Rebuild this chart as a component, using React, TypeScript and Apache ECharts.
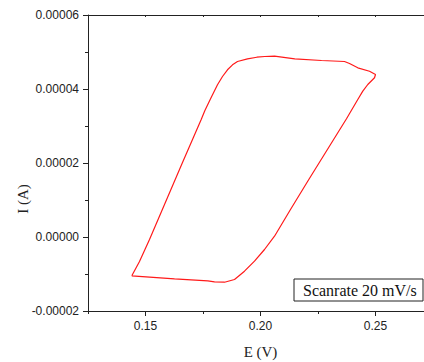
import React, { useEffect, useRef } from "react";
import * as echarts from "echarts";

// Cyclic voltammogram
const potentialV: number[] = [
  0.14404, 0.14739, 0.15174, 0.16604, 0.17422, 0.17578, 0.17839, 0.1813, 0.18348, 0.18565,
  0.18783, 0.19, 0.19435, 0.19839, 0.20187, 0.20609, 0.21491, 0.22652, 0.23652, 0.2387,
  0.2423, 0.24739, 0.25, 0.24957, 0.24665, 0.24448, 0.2423, 0.23739, 0.221, 0.21304,
  0.20609, 0.20174, 0.19739, 0.19304, 0.1887, 0.18435, 0.18, 0.17709, 0.16261, 0.14404,
];
const currentA: number[] = [
  -1.049e-5, -0.662e-5, -0.068e-5, 2.005e-5, 3.176e-5, 3.411e-5, 3.751e-5, 4.114e-5, 4.338e-5, 4.519e-5,
  4.654e-5, 4.743e-5, 4.816e-5, 4.859e-5, 4.878e-5, 4.886e-5, 4.816e-5, 4.77e-5, 4.743e-5, 4.689e-5,
  4.573e-5, 4.481e-5, 4.392e-5, 4.303e-5, 4.122e-5, 3.941e-5, 3.716e-5, 3.195e-5, 1.554e-5, 0.743e-5,
  0.022e-5, -0.338e-5, -0.654e-5, -0.924e-5, -1.149e-5, -1.222e-5, -1.211e-5, -1.184e-5, -1.13e-5, -1.049e-5,
];
const xMajorTicks: number[] = [0.15, 0.2, 0.25];
const legendText = "Scanrate 20 mV/s";
const xName = "E (V)";
const yName = "I (A)";

const AXIS = "#222";
const SANS = "'Liberation Sans', Arial, sans-serif";
const SERIF = "'Liberation Serif', 'Times New Roman', serif";

export default function App() {
  const ref = useRef<HTMLDivElement>(null);
  useEffect(() => {
    if (!ref.current) return;
    const chart = echarts.init(ref.current, undefined, { renderer: "svg" });
    const data = potentialV.map((e, i) => [e, currentA[i]]);
    chart.setOption({
      animation: false,
      backgroundColor: "#fff",
      grid: { left: 88, top: 15, width: 345, height: 296, containLabel: false, outerBoundsMode: "none" },
      xAxis: [
        {
          type: "value",
          position: "bottom",
          min: 0.125,
          max: 0.275,
          interval: 0.025,
          name: xName,
          nameLocation: "middle",
          nameGap: 33,
          nameTextStyle: { fontFamily: SERIF, fontSize: 15, color: AXIS },
          axisLine: { show: true, onZero: false, lineStyle: { color: AXIS, width: 1 } },
          axisTick: { show: true, inside: false, length: 3, lineStyle: { color: AXIS } },
          axisLabel: { show: false },
          splitLine: { show: false },
        },
        {
          type: "value",
          position: "bottom",
          min: 0.125,
          max: 0.275,
          axisLine: { show: false, onZero: false },
          axisTick: { show: true, inside: false, length: 5, customValues: xMajorTicks, lineStyle: { color: AXIS } },
          axisLabel: {
            show: true,
            customValues: xMajorTicks,
            margin: 9,
            fontFamily: SANS,
            fontSize: 12,
            color: AXIS,
            formatter: (v: number) => v.toFixed(2),
          },
          splitLine: { show: false },
        },
        {
          type: "value",
          position: "top",
          min: 0.125,
          max: 0.275,
          interval: 0.025,
          axisLine: { show: true, onZero: false, lineStyle: { color: AXIS, width: 1 } },
          axisTick: { show: true, inside: true, length: 2, lineStyle: { color: AXIS } },
          axisLabel: { show: false },
          splitLine: { show: false },
        },
      ],
      yAxis: [
        {
          type: "value",
          min: -0.00002,
          max: 0.00006,
          interval: 0.00002,
          axisLine: { show: true, onZero: false, lineStyle: { color: AXIS, width: 1 } },
          axisTick: { show: true, inside: false, length: 5, lineStyle: { color: AXIS } },
          minorTick: { show: true, splitNumber: 2, length: 3, lineStyle: { color: AXIS } },
          axisLabel: {
            margin: 9,
            fontFamily: SANS,
            fontSize: 12,
            color: AXIS,
            formatter: (v: number) => v.toFixed(5),
          },
          splitLine: { show: false },
        },
      ],
      graphic: [
        {
          type: "text",
          x: 22.5,
          y: 199,
          rotation: Math.PI / 2,
          style: {
            text: yName,
            fontFamily: SERIF,
            fontSize: 15,
            fill: AXIS,
            align: "center",
            verticalAlign: "middle",
          },
        },
        {
          type: "rect",
          shape: { x: 294, y: 279, width: 129, height: 22 },
          style: { fill: "#fff", stroke: AXIS, lineWidth: 1 },
          z: 10,
        },
        {
          type: "text",
          x: 303,
          y: 290.5,
          style: {
            text: legendText,
            fontFamily: SERIF,
            fontSize: 16,
            fill: "#111",
            verticalAlign: "middle",
          },
          z: 11,
        },
      ],
      series: [
        {
          type: "line",
          xAxisIndex: 0,
          yAxisIndex: 0,
          data,
          showSymbol: false,
          symbol: "none",
          smooth: false,
          lineStyle: { color: "#ff1a1a", width: 1.2 },
        },
      ],
    });
    return () => chart.dispose();
  }, []);
  return (
    <div
      ref={ref}
      style={{ position: "absolute", left: 0, top: 0, width: 424, height: 362 }}
    />
  );
}
